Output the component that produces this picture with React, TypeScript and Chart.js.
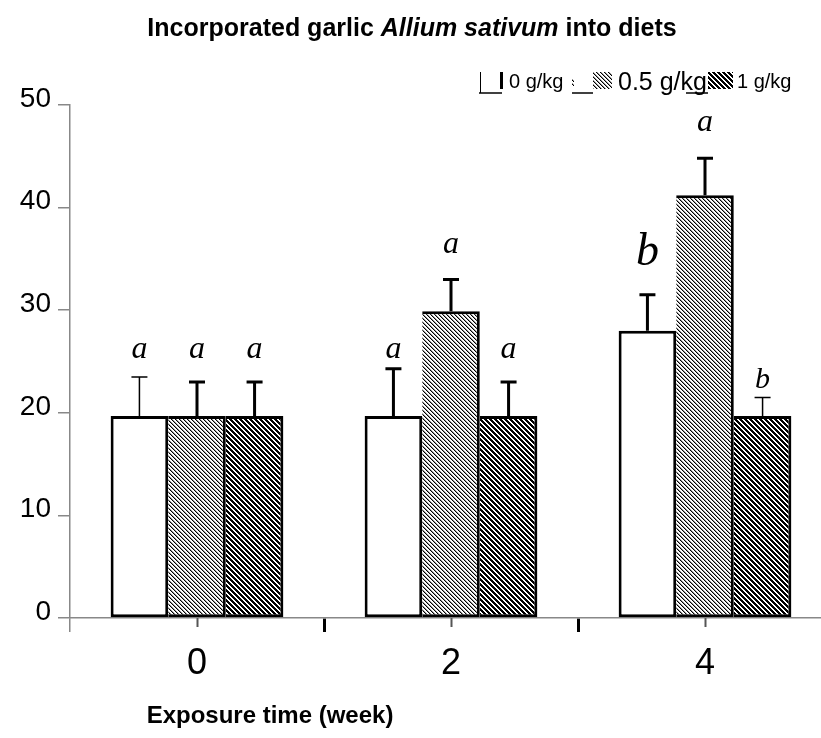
import React, { useEffect, useRef } from 'react';
import { Chart, registerables } from 'chart.js';
Chart.register(...registerables);

// ---- data ----
const categories = ['0', '2', '4'];
const seriesLabels = ['0 g/kg', '0.5 g/kg', '1 g/kg'];
const control = [19.7, 19.7, 28.0];
const garlic05 = [19.7, 29.9, 41.2];
const garlic1 = [19.7, 19.7, 19.7];
const controlSd = [3.8, 4.6, 3.5];
const garlic05Sd = [3.3, 3.1, 3.6];
const garlic1Sd = [3.3, 3.3, 1.8];
const controlLetters = ['a', 'a', 'b'];
const garlic05Letters = ['a', 'a', 'a'];
const garlic1Letters = ['a', 'a', 'b'];
const yTicks = [0, 10, 20, 30, 40, 50];

// ---- styles ----
const errWidths = [[1.5, 3, 3], [3, 3, 3], [3, 3, 1.5]];
const letterGap = [[19, 11, 30], [24, 26, 27], [24, 24, 9]];
const letterSize = [[32, 32, 46], [32, 32, 32], [32, 32, 30]];
const SANS = '"Liberation Sans", Arial, sans-serif';
const SERIF = '"Liberation Serif", "Times New Roman", serif';

function makePattern(n: number, black: number[], grey: number[]) {
  const c = document.createElement('canvas');
  c.width = n; c.height = n;
  const g = c.getContext('2d')!;
  const img = g.createImageData(n, n);
  for (let y = 0; y < n; y++) {
    for (let x = 0; x < n; x++) {
      const m = (((x - y) % n) + n) % n;
      let v = 255;
      if (black.includes(m)) v = 0;
      else if (grey.includes(m)) v = 150;
      const k = (y * n + x) * 4;
      img.data[k] = v; img.data[k + 1] = v; img.data[k + 2] = v; img.data[k + 3] = 255;
    }
  }
  g.putImageData(img, 0, 0);
  return g.createPattern(c, 'repeat')!;
}

export default function App() {
  const ref = useRef<HTMLCanvasElement>(null);
  useEffect(() => {
    document.body.style.margin = '0';
    document.body.style.overflow = 'hidden';
    const light = makePattern(4, [0], [1]);
    const dark = makePattern(5, [0, 1, 2], []);
    const fills = ['#ffffff', light, dark];
    const sds = [controlSd, garlic05Sd, garlic1Sd];
    const letters = [controlLetters, garlic05Letters, garlic1Letters];

    const decor = {
      id: 'decor',
      afterDatasetsDraw(chart: any) {
        const ctx = chart.ctx;
        const xs = chart.scales.x;
        const ys = chart.scales.y;
        const area = chart.chartArea;
        ctx.save();
        // center ticks
        ctx.strokeStyle = '#555';
        ctx.lineWidth = 2;
        categories.forEach((_, i) => {
          const x = Math.round(xs.getPixelForValue(i)) + 0.5;
          ctx.beginPath();
          ctx.moveTo(x, area.bottom);
          ctx.lineTo(x, area.bottom + 9);
          ctx.stroke();
        });
        // error bars & letters
        chart.data.datasets.forEach((ds: any, d: number) => {
          const meta = chart.getDatasetMeta(d);
          meta.data.forEach((bar: any, i: number) => {
            const v = ds.data[i] + sds[d][i];
            const yTop = ys.getPixelForValue(v);
            const x = bar.x;
            const lw = errWidths[d][i];
            ctx.strokeStyle = '#000';
            ctx.lineWidth = lw;
            ctx.lineCap = 'butt';
            ctx.beginPath();
            ctx.moveTo(x, bar.y);
            ctx.lineTo(x, yTop);
            ctx.moveTo(x - 8, yTop);
            ctx.lineTo(x + 8, yTop);
            ctx.stroke();
            ctx.fillStyle = '#000';
            ctx.font = `italic ${letterSize[d][i]}px ${SERIF}`;
            ctx.textAlign = 'center';
            ctx.textBaseline = 'alphabetic';
            ctx.fillText(letters[d][i], x, yTop - letterGap[d][i]);
          });
        });
        // title with mixed styles
        const parts = [
          { t: 'Incorporated garlic ', f: `bold 25px ${SANS}` },
          { t: 'Allium sativum', f: `italic bold 25px ${SANS}` },
          { t: ' into diets', f: `bold 25px ${SANS}` },
        ];
        let total = 0;
        parts.forEach(p => { ctx.font = p.f; total += ctx.measureText(p.t).width; });
        let tx = 412 - total / 2;
        ctx.textAlign = 'left';
        ctx.textBaseline = 'alphabetic';
        parts.forEach(p => { ctx.font = p.f; ctx.fillText(p.t, tx, 36); tx += ctx.measureText(p.t).width; });
        // x axis title
        ctx.font = `bold 24px ${SANS}`;
        ctx.textAlign = 'center';
        ctx.fillText('Exposure time (week)', 270, 723);
        // legend
        ctx.textAlign = 'left';
        ctx.strokeStyle = '#000';
        ctx.lineWidth = 1;
        ctx.beginPath(); ctx.moveTo(480.5, 72); ctx.lineTo(480.5, 93); ctx.stroke();
        ctx.lineWidth = 3;
        ctx.beginPath(); ctx.moveTo(501.5, 72); ctx.lineTo(501.5, 89); ctx.stroke();
        ctx.lineWidth = 1.5;
        ctx.beginPath(); ctx.moveTo(479, 93); ctx.lineTo(502, 93); ctx.stroke();
        ctx.font = `20px ${SANS}`;
        ctx.fillText(seriesLabels[0], 509, 88);
        ctx.fillStyle = light;
        ctx.fillRect(593, 72, 19, 17);
        ctx.fillRect(572, 78, 2, 8);
        ctx.beginPath(); ctx.moveTo(572, 93); ctx.lineTo(593, 93); ctx.stroke();
        ctx.fillStyle = '#000';
        ctx.font = `25px ${SANS}`;
        ctx.fillText(seriesLabels[1], 618, 90);
        ctx.fillStyle = dark;
        ctx.fillRect(708, 72, 25, 17);
        ctx.beginPath(); ctx.moveTo(686, 93); ctx.lineTo(708, 93); ctx.stroke();
        ctx.fillStyle = '#000';
        ctx.font = `20px ${SANS}`;
        ctx.fillText(seriesLabels[2], 737, 88);
        ctx.restore();
      },
    };

    const mk = (d: number, data: number[], bw: any) => ({
      label: seriesLabels[d],
      data,
      backgroundColor: fills[d],
      borderColor: '#000',
      borderWidth: bw,
      borderSkipped: false,
      categoryPercentage: 0.68,
      barPercentage: 1,
    });

    const chart = new Chart(ref.current!, {
      type: 'bar',
      data: {
        labels: categories,
        datasets: [
          mk(0, control, 3),
          mk(1, garlic05, { top: 3, right: 3, bottom: 3, left: 0 }),
          mk(2, garlic1, { top: 3, right: 3, bottom: 3, left: 0 }),
        ],
      },
      options: {
        responsive: false,
        animation: false,
        devicePixelRatio: 1,
        layout: { padding: { top: 105, right: 8, bottom: 0, left: 0 } },
        plugins: { legend: { display: false }, title: { display: false }, tooltip: { enabled: false } },
        scales: {
          x: {
            offset: true,
            grid: {
              offset: true,
              drawOnChartArea: false,
              drawTicks: true,
              tickLength: 14,
              color: (c: any) => (c.index === 0 ? '#888' : '#000'),
              lineWidth: (c: any) => (c.index === 0 ? 1.5 : 3),
            },
            border: { display: true, color: '#888', width: 1.5 },
            ticks: {
              font: { family: '"Liberation Sans Narrow", "Liberation Sans", sans-serif', size: 36 },
              color: '#000',
              padding: 10,
            },
            afterFit: (s: any) => { s.height = 120; },
          },
          y: {
            min: 0,
            max: 50,
            afterBuildTicks: (s: any) => { s.ticks = yTicks.map(v => ({ value: v })); },
            ticks: { font: { family: SANS, size: 28 }, color: '#000', padding: 7, labelOffset: -6 },
            grid: { drawOnChartArea: false, drawTicks: true, tickLength: 12, color: '#888', lineWidth: 1.5 },
            border: { display: true, color: '#888', width: 1.5 },
            afterFit: (s: any) => { s.width = 70; },
          },
        },
      },
      plugins: [decor],
    } as any);
    return () => chart.destroy();
  }, []);
  return (
    <div style={{ width: 821, height: 738, overflow: 'hidden' }}>
      <canvas ref={ref} width={840} height={738} style={{ display: 'block' }} />
    </div>
  );
}
